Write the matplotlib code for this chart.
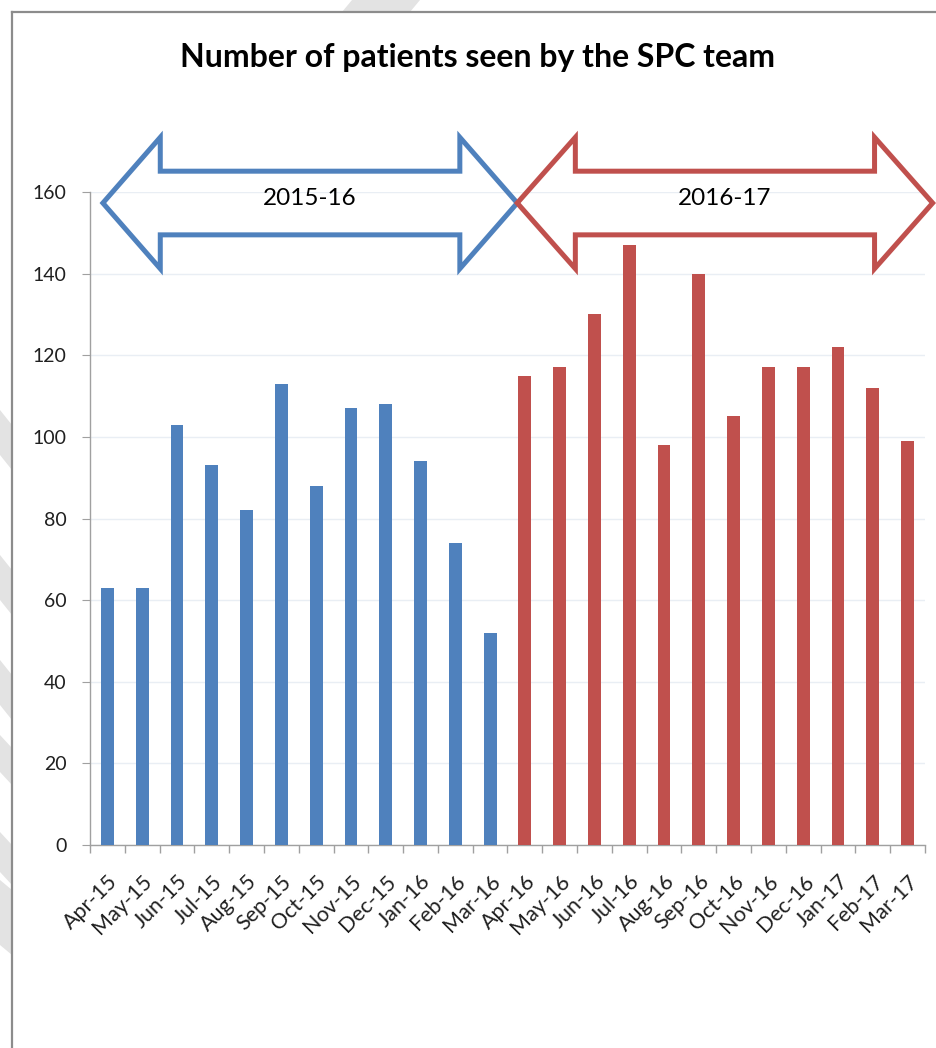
import matplotlib
matplotlib.use("Agg")
from matplotlib import pyplot as plt
from matplotlib.patches import Polygon
from matplotlib.lines import Line2D
import numpy as np

plt.rcParams['font.family'] = ['Lato', 'DejaVu Sans']

# Данные
months = ['Apr-15', 'May-15', 'Jun-15', 'Jul-15', 'Aug-15', 'Sep-15', 'Oct-15', 'Nov-15',
          'Dec-15', 'Jan-16', 'Feb-16', 'Mar-16', 'Apr-16', 'May-16', 'Jun-16', 'Jul-16',
          'Aug-16', 'Sep-16', 'Oct-16', 'Nov-16', 'Dec-16', 'Jan-17', 'Feb-17', 'Mar-17']
patients_1516 = [63, 63, 103, 93, 82, 113, 88, 107, 108, 94, 74, 52]
patients_1617 = [115, 117, 130, 147, 98, 140, 105, 117, 117, 122, 112, 99]
periods = ['2015-16', '2016-17']

blue = '#4F81BD'
red = '#C0504D'

fig = plt.figure(figsize=(9.36, 10.48), dpi=100)
W, H = 936, 1048

# Серые полосы водяного знака на фоне
for pts in [[(352, 0), (420, 0), (410, 12), (342, 12)],
            [(0, 410), (12, 425), (12, 470), (0, 455)],
            [(0, 555), (12, 570), (12, 615), (0, 600)],
            [(0, 660), (12, 675), (12, 720), (0, 705)],
            [(0, 735), (12, 748), (12, 785), (0, 772)],
            [(0, 832), (12, 845), (12, 885), (0, 872)],
            [(0, 880), (12, 890), (12, 955), (0, 945)]]:
    fig.patches.append(Polygon([(x / W, 1 - y / H) for x, y in pts], closed=True,
                               transform=fig.transFigure, facecolor='#E3E3E3',
                               edgecolor='none', zorder=0))

# Рамка области диаграммы
fig.add_artist(Line2D([12 / W, 12 / W], [0, 1 - 12 / H], color='#8C8C8C', lw=1.6))
fig.add_artist(Line2D([12 / W, 1], [1 - 12 / H, 1 - 12 / H], color='#8C8C8C', lw=1.6))

ax = fig.add_axes([90 / W, 1 - 845 / H, (925 - 90) / W, (845 - 192) / H])

n1 = len(patients_1516)
x1 = np.arange(n1)
x2 = np.arange(n1, n1 + len(patients_1617))
ax.bar(x1, patients_1516, width=0.37, color=blue, zorder=3)
ax.bar(x2, patients_1617, width=0.37, color=red, zorder=3)

ax.set_xlim(-0.5, len(months) - 0.5)
ax.set_ylim(0, 160)
ax.set_yticks(range(0, 161, 20))
ax.yaxis.grid(True, color='#E9EEF4', lw=1, zorder=0)

ax.set_xticks(np.arange(len(months)))
ax.set_xticklabels(months, rotation=45, ha='right', va='top', rotation_mode='anchor', fontsize=15.5)
ax.set_xticks(np.arange(-0.5, len(months)), minor=True)
ax.tick_params(axis='x', which='major', length=0, pad=19, labelcolor='#202020')
ax.tick_params(axis='x', which='minor', length=6, color='#A0A0A0', width=1)
ax.tick_params(axis='y', length=6, color='#A0A0A0', labelsize=14, pad=11, labelcolor='#202020')

for s in ['top', 'right']:
    ax.spines[s].set_visible(False)
for s in ['left', 'bottom']:
    ax.spines[s].set_color('#A0A0A0')
    ax.spines[s].set_linewidth(1)

# Двойные стрелки с подписями периодов
def double_arrow(x0, x1, y, head, half_shaft, half_head, color, label):
    pts = [(x0, y), (x0 + head, y + half_head), (x0 + head, y + half_shaft),
           (x1 - head, y + half_shaft), (x1 - head, y + half_head), (x1, y),
           (x1 - head, y - half_head), (x1 - head, y - half_shaft),
           (x0 + head, y - half_shaft), (x0 + head, y - half_head)]
    ax.add_patch(Polygon(pts, closed=True, fill=False, edgecolor=color, lw=3.6,
                         joinstyle='miter', clip_on=False, zorder=4))
    ax.text((x0 + x1) / 2, y + 1.2, label, ha='center', va='center', fontsize=17.5, zorder=5)

double_arrow(-0.13, 11.78, 157.3, 1.65, 7.8, 16.1, blue, periods[0])
double_arrow(11.78, 23.72, 157.3, 1.67, 7.8, 16.1, red, periods[1])

fig.text(478 / W, 1 - 57 / H, 'Number of patients seen by the SPC team',
         ha='center', va='center', fontsize=23, fontweight='bold')

fig.savefig('out.png', dpi=100)
